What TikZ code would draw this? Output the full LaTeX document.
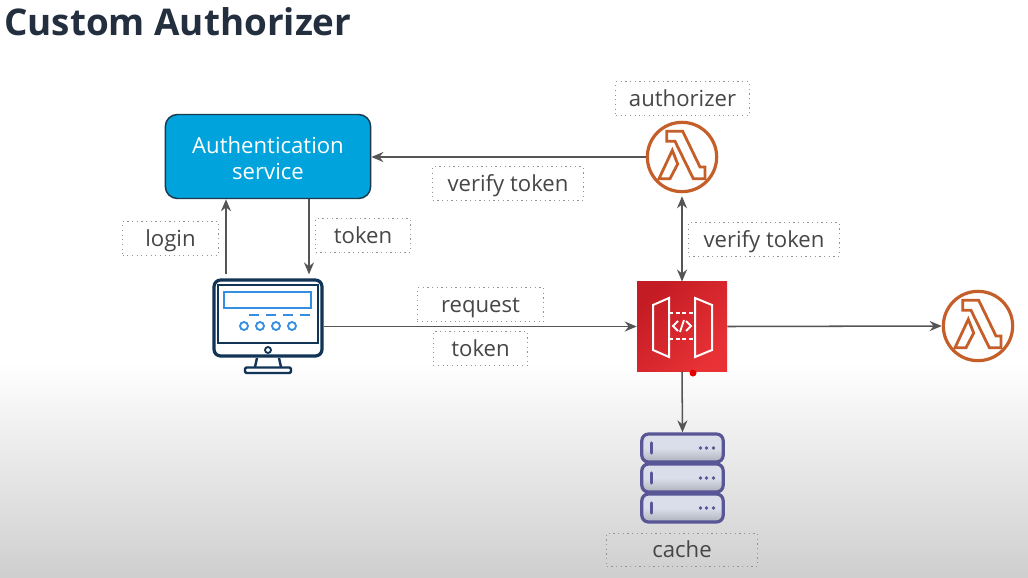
\documentclass[tikz,border=0pt]{standalone}
\usepackage{fontspec}
\setmainfont{Open Sans}
\usetikzlibrary{arrows.meta, positioning, calc}
\definecolor{titleink}{RGB}{35, 47, 62}
\definecolor{labelink}{RGB}{70, 70, 70}
\definecolor{flowgrey}{RGB}{85, 85, 85}
\definecolor{authblue}{RGB}{0, 163, 220}
\definecolor{authedge}{RGB}{28, 58, 78}
\definecolor{lambdaorange}{RGB}{197, 95, 42}
\definecolor{monnavy}{RGB}{18, 52, 86}
\definecolor{monblue}{RGB}{52, 142, 226}
\definecolor{gwdark}{RGB}{196, 28, 36}
\definecolor{gwlight}{RGB}{232, 50, 54}
\definecolor{srvedge}{RGB}{88, 86, 150}
\definecolor{srvfill}{RGB}{218, 222, 234}

\begin{document}
\begin{tikzpicture}[
  x=0.75pt, y=-0.75pt,
  tag/.style={draw=gray!85, line width=0.9pt, dash pattern=on 0.9pt off 2.6pt, font=\fontsize{16.6}{20}\selectfont, text=labelink, inner sep=0pt, minimum height=25pt, text height=14.8pt, text depth=3.2pt},
  flow/.style={-{Stealth[length=9pt, width=7.5pt]}, line width=1.15pt, flowgrey},
  lambdanode/.style={circle, draw=lambdaorange, line width=2.4pt, minimum size=52pt, inner sep=0pt},
  srvbox/.style={draw=srvedge, line width=2.4pt, rounded corners=5pt, minimum width=61pt, minimum height=21pt, inner sep=0pt,
    top color=srvfill, bottom color=srvfill!80!black, middle color=srvfill},
  lambdamark/.pic={
    \draw[lambdaorange, line width=2.1pt, line join=miter]
      (-15.3,-25.7) -- (0.7,-25.7) -- (18,10) -- (23,10) -- (23,21.7) -- (11.3,21.7) -- (-7,-15.7) -- (-15.3,-15.7) -- cycle
      (-9.7,-6.7) -- (-4.3,7) -- (-12,21.7) -- (-23,21.7) -- cycle;
  },
  serverbits/.pic={
    \draw[srvedge, line width=2.4pt, line cap=round] (-31,-5) -- (-31,5);
    \foreach \dotx in {18,24,31} \fill[srvedge] (\dotx,0) circle (1.9);
  }
]
  \useasboundingbox (0,0) rectangle (1028,578);
  % Background
  \fill[white] (0,0) rectangle (1028,578);
  \fill[top color=white, bottom color=black!19] (0,362) rectangle (1028,578);

  % Title
  \node[anchor=west, inner sep=0pt, text=titleink, font=\fontsize{27.6}{32}\bfseries\selectfont] (title) at (4,22) {Custom Authorizer};

  % Authentication service
  \node[draw=authedge, fill=authblue, line width=1.1pt, rounded corners=9pt, minimum width=154pt, minimum height=63pt, align=center, text=white, font=\fontsize{16.6}{19.5}\selectfont] (auth) at (268,156.5) {\rule{0pt}{15pt}Authentication\\service};

  % Lambdas
  \node[lambdanode] (authz) at (682,157) {};
  \pic at (authz.center) {lambdamark};
  \node[lambdanode] (backend) at (978,326) {};
  \pic at (backend.center) {lambdamark};

  % Client
  \node[draw=monnavy, fill=white, line width=2.4pt, rounded corners=5pt, minimum width=81pt, minimum height=57pt, inner sep=0pt] (client) at (268,318) {};
  \draw[monnavy, line width=1.7pt] (218,285) rectangle (318,343);
  \draw[monnavy, line width=1.4pt] (268,350) circle (3);
  \draw[monnavy, line width=1.8pt] (257,358) -- (255,367) (279,358) -- (281,367);
  \draw[monnavy, line width=1.8pt, rounded corners=1pt] (245,367.5) rectangle (291,373);
  \draw[monblue, line width=1.6pt] (224,292) rectangle (311,308);
  \foreach \dashx in {249,266,283,300} \draw[monblue, line width=1.5pt] (\dashx,315) -- ++(10,0);
  \foreach \ringx in {244,260,276,292} \draw[monblue, line width=1.4pt] (\ringx,326) circle (4);

  % API gateway
  \node[left color=gwdark, right color=gwlight, shading angle=45, minimum width=67.5pt, minimum height=67pt, inner sep=0pt] (gateway) at (682,326.5) {};
  \draw[white, line width=1.5pt] (653,305) -- (669,298) -- (669,357) -- (653,350) -- cycle;
  \draw[white, line width=1.5pt] (695,298) -- (712,305) -- (712,350) -- (695,357) -- cycle;
  \draw[white, line width=1.5pt, dash pattern=on 3pt off 2pt] (669,313) -- (695,313) (669,339) -- (695,339);
  \draw[white, line width=1.4pt] (678,321) -- (673,326) -- (678,331) (686,321) -- (691,326) -- (686,331) (680,332) -- (684,320);
  \fill[red!90!black] (693,373) circle (3.5);

  % Cache
  \node[srvbox] (srv1) at (682.5,448) {};
  \node[srvbox] (srv2) at (682.5,478) {};
  \node[srvbox] (srv3) at (682.5,508) {};
  \foreach \srv in {srv1,srv2,srv3} \pic at (\srv.center) {serverbits};

  % Labels
  \node[tag, minimum width=100pt] (lauthz) at (682.5,98.5) {authorizer};
  \node[tag, minimum width=113pt] (lverify1) at (508,183.5) {verify token};
  \node[tag, minimum width=113pt] (lverify2) at (764,239.5) {verify token};
  \node[tag, minimum width=72pt] (llogin) at (170.5,238.5) {login};
  \node[tag, minimum width=71pt] (ltoken1) at (363,235.5) {token};
  \node[tag, minimum width=95pt] (lrequest) at (480.5,304.5) {request};
  \node[tag, minimum width=71pt] (ltoken2) at (480.5,348.5) {token};
  \node[tag, minimum width=113pt] (lcache) at (682,550) {cache};

  % Connectors
  \draw[flow] (authz) -- (auth.east |- authz);
  \draw[flow] ([xshift=-31.5pt]client.north) ++(0,-4) -- ([xshift=-31.5pt]auth.south);
  \draw[flow] ([xshift=30.75pt]auth.south) -- ([xshift=30.75pt,yshift=3pt]client.north);
  \draw[flow] (client.east |- gateway) -- (gateway.west);
  \draw[flow, {Stealth[length=9pt, width=7.5pt]}-{Stealth[length=9pt, width=7.5pt]}] (authz.south) ++(0,3) -- (gateway.north);
  \draw[flow] (gateway.east) -- (backend.west);
  \draw[flow] (gateway.south) -- (srv1.north);
\end{tikzpicture}
\end{document}
